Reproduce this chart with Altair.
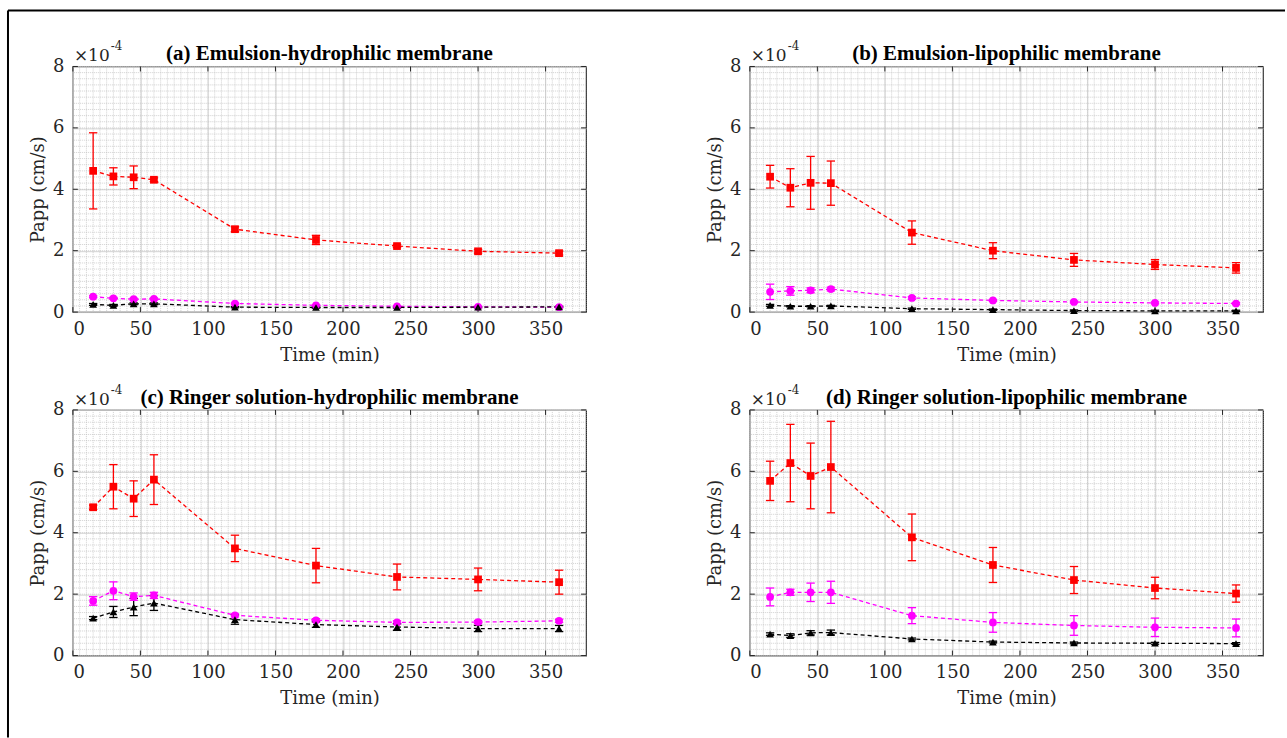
import altair as alt
import pandas as pd
import numpy as np

# ---------------- data (Papp in units of 1e-4 cm/s) ----------------
TIME = [15, 30, 45, 60, 120, 180, 240, 300, 360]
SERIES = ["s1", "s2", "s3"]
COLORS = ["#ff0000", "#ff00ff", "#000000"]
SHAPES = ["square", "circle", "triangle-up"]
PANELS = ["a", "b", "c", "d"]
TITLES = [
    "(a) Emulsion-hydrophilic membrane",
    "(b) Emulsion-lipophilic membrane",
    "(c) Ringer solution-hydrophilic membrane",
    "(d) Ringer solution-lipophilic membrane",
]
XTICKS = [0, 50, 100, 150, 200, 250, 300, 350]
YTICKS = [0, 2, 4, 6, 8]

# panel a
a_s1_mean = [4.60, 4.42, 4.39, 4.31, 2.70, 2.35, 2.15, 1.98, 1.92]
a_s1_err = [1.24, 0.28, 0.37, 0.06, 0.08, 0.15, 0.05, 0.06, 0.06]
a_s2_mean = [0.50, 0.45, 0.42, 0.43, 0.28, 0.22, 0.19, 0.17, 0.16]
a_s2_err = [0.03, 0.03, 0.03, 0.03, 0.02, 0.02, 0.02, 0.02, 0.02]
a_s3_mean = [0.25, 0.22, 0.27, 0.27, 0.16, 0.15, 0.15, 0.16, 0.17]
a_s3_err = [0.03, 0.03, 0.03, 0.03, 0.02, 0.02, 0.02, 0.02, 0.02]
# panel b
b_s1_mean = [4.41, 4.05, 4.21, 4.20, 2.59, 2.00, 1.70, 1.55, 1.44]
b_s1_err = [0.37, 0.62, 0.86, 0.72, 0.38, 0.26, 0.21, 0.16, 0.17]
b_s2_mean = [0.66, 0.69, 0.71, 0.75, 0.46, 0.38, 0.33, 0.30, 0.28]
b_s2_err = [0.25, 0.14, 0.08, 0.06, 0.04, 0.03, 0.03, 0.03, 0.03]
b_s3_mean = [0.22, 0.19, 0.19, 0.20, 0.11, 0.08, 0.05, 0.04, 0.04]
b_s3_err = [0.03, 0.02, 0.02, 0.02, 0.02, 0.02, 0.02, 0.02, 0.02]
# panel c
c_s1_mean = [4.83, 5.50, 5.11, 5.73, 3.49, 2.93, 2.56, 2.48, 2.39]
c_s1_err = [0.07, 0.72, 0.58, 0.81, 0.43, 0.56, 0.42, 0.37, 0.39]
c_s2_mean = [1.78, 2.11, 1.92, 1.96, 1.31, 1.15, 1.08, 1.09, 1.13]
c_s2_err = [0.14, 0.29, 0.12, 0.10, 0.05, 0.05, 0.05, 0.05, 0.05]
c_s3_mean = [1.22, 1.42, 1.58, 1.71, 1.17, 1.01, 0.93, 0.88, 0.88]
c_s3_err = [0.05, 0.18, 0.28, 0.24, 0.15, 0.09, 0.11, 0.10, 0.10]
# panel d
d_s1_mean = [5.69, 6.27, 5.85, 6.14, 3.85, 2.95, 2.46, 2.20, 2.02]
d_s1_err = [0.64, 1.26, 1.07, 1.49, 0.76, 0.57, 0.44, 0.35, 0.28]
d_s2_mean = [1.91, 2.06, 2.06, 2.06, 1.30, 1.08, 0.98, 0.92, 0.90]
d_s2_err = [0.29, 0.10, 0.30, 0.36, 0.26, 0.32, 0.32, 0.30, 0.29]
d_s3_mean = [0.70, 0.65, 0.74, 0.75, 0.54, 0.44, 0.41, 0.40, 0.39]
d_s3_err = [0.04, 0.06, 0.07, 0.08, 0.03, 0.03, 0.03, 0.03, 0.03]

RAW = {
    "a": [(a_s1_mean, a_s1_err), (a_s2_mean, a_s2_err), (a_s3_mean, a_s3_err)],
    "b": [(b_s1_mean, b_s1_err), (b_s2_mean, b_s2_err), (b_s3_mean, b_s3_err)],
    "c": [(c_s1_mean, c_s1_err), (c_s2_mean, c_s2_err), (c_s3_mean, c_s3_err)],
    "d": [(d_s1_mean, d_s1_err), (d_s2_mean, d_s2_err), (d_s3_mean, d_s3_err)],
}

rows = []
for p in PANELS:
    for s, (m, e) in zip(SERIES, RAW[p]):
        for t, mv, ev in zip(TIME, m, e):
            rows.append({"panel": p, "series": s, "time": t, "mean": mv,
                         "lo": mv - ev, "hi": mv + ev})
df = pd.DataFrame(rows)

minor_x = pd.DataFrame({"v": np.arange(0, 381, 5)})
minor_y = pd.DataFrame({"v": np.round(np.arange(0, 8.01, 0.2), 2)})
xt = pd.DataFrame({"v": XTICKS})
yt = pd.DataFrame({"v": YTICKS})

# ---------------- styling ----------------
W, H = 514, 246
FONT = "Liberation Serif"
AXFONT = "DejaVu Serif"
AX = "#262626"
XDOM = [0, 380]
YDOM = [0, 8]

xscale = alt.Scale(domain=XDOM, nice=False, zero=False)
yscale = alt.Scale(domain=YDOM, nice=False, zero=False)
cscale = alt.Scale(domain=SERIES, range=COLORS)
sscale = alt.Scale(domain=SERIES, range=SHAPES)

AXSTYLE = dict(grid=True, gridColor="#cfcfcf", gridWidth=0.9,
               ticks=False, domain=False,
               labelFont=AXFONT, labelFontSize=18, labelColor=AX,
               titleFont=AXFONT, titleFontSize=18, titleFontWeight="normal",
               titleColor=AX)
xax = alt.Axis(values=XTICKS, title="Time (min)", labelPadding=8,
               titlePadding=8, **AXSTYLE)
yax = alt.Axis(values=YTICKS, title="Papp (cm/s)", labelPadding=9,
               titlePadding=5, **AXSTYLE)


def X(field):
    return alt.X(field, scale=xscale, axis=xax)


def Y(field):
    return alt.Y(field, scale=yscale, axis=yax)


def panel(idx):
    key = PANELS[idx]
    d = df[df.panel == key]
    base = alt.Chart(d)
    col = alt.Color("series:N", scale=cscale, legend=None)

    gx = alt.Chart(minor_x).mark_rule(color="#bdbdbd", strokeWidth=0.7,
                                      strokeDash=[1, 1]).encode(x=X("v:Q"))
    gy = alt.Chart(minor_y).mark_rule(color="#bdbdbd", strokeWidth=0.7,
                                      strokeDash=[1, 1]).encode(y=Y("v:Q"))

    tb = alt.Chart(xt).mark_rule(color=AX, strokeWidth=1).encode(
        x=X("v:Q"), y=alt.value(H), y2=alt.value(H - 5))
    tt = alt.Chart(xt).mark_rule(color=AX, strokeWidth=1).encode(
        x=X("v:Q"), y=alt.value(0), y2=alt.value(5))
    tl = alt.Chart(yt).mark_rule(color=AX, strokeWidth=1).encode(
        y=Y("v:Q"), x=alt.value(0), x2=alt.value(5))
    tr = alt.Chart(yt).mark_rule(color=AX, strokeWidth=1).encode(
        y=Y("v:Q"), x=alt.value(W - 5), x2=alt.value(W))

    line = base.mark_line(strokeDash=[4, 3], strokeWidth=1.3).encode(
        x=X("time:Q"), y=Y("mean:Q"), color=col, detail="series:N")
    err = base.mark_rule(strokeWidth=1.3).encode(
        x=X("time:Q"), y=Y("lo:Q"), y2="hi:Q", color=col)
    cap_lo = base.mark_point(shape="M -1 0 L 1 0", filled=False, size=70,
                             strokeWidth=1.3, opacity=1).encode(
        x=X("time:Q"), y=Y("lo:Q"), color=col)
    cap_hi = base.mark_point(shape="M -1 0 L 1 0", filled=False, size=70,
                             strokeWidth=1.3, opacity=1).encode(
        x=X("time:Q"), y=Y("hi:Q"), color=col)
    pts = base.mark_point(filled=True, size=60, opacity=1).encode(
        x=X("time:Q"), y=Y("mean:Q"),
        color=col, shape=alt.Shape("series:N", scale=sscale, legend=None))

    one = pd.DataFrame({"t": [TITLES[idx]]})
    title = alt.Chart(one).mark_text(font=FONT, fontSize=21, fontWeight="bold",
                                     align="center", baseline="alphabetic",
                                     color="#000000").encode(
        text="t:N", x=alt.value(W / 2), y=alt.value(-6))
    ex1 = alt.Chart(pd.DataFrame({"t": ["\u00d710"]})).mark_text(
        font=AXFONT, fontSize=17, align="left", baseline="alphabetic", color=AX).encode(
        text="t:N", x=alt.value(1), y=alt.value(-5))
    ex2 = alt.Chart(pd.DataFrame({"t": ["-4"]})).mark_text(
        font=AXFONT, fontSize=12, align="left", baseline="alphabetic", color=AX).encode(
        text="t:N", x=alt.value(38), y=alt.value(-16))

    layers = [gx, gy, line, err, cap_lo, cap_hi, pts, tb, tt, tl, tr, title, ex1, ex2]
    if idx == 0:
        fr = pd.DataFrame({"k": [0]})
        top = alt.Chart(fr).mark_rule(color="#000000", strokeWidth=2).encode(
            x=alt.value(-65), x2=alt.value(1214), y=alt.value(-56))
        left = alt.Chart(fr).mark_rule(color="#000000", strokeWidth=2).encode(
            x=alt.value(-65), y=alt.value(-56), y2=alt.value(672))
        layers += [top, left]
    return alt.layer(*layers).properties(width=W, height=H)


chart = alt.concat(*[panel(i) for i in range(4)], columns=2,
                   spacing={"row": 98, "column": 164}, bounds="flush").properties(
    padding={"left": 6, "top": 8, "right": 0, "bottom": 0},
    background="white",
).configure_view(stroke=AX, strokeWidth=1.2)

chart.save("out.html", embed_options={"renderer": "svg", "actions": False})
